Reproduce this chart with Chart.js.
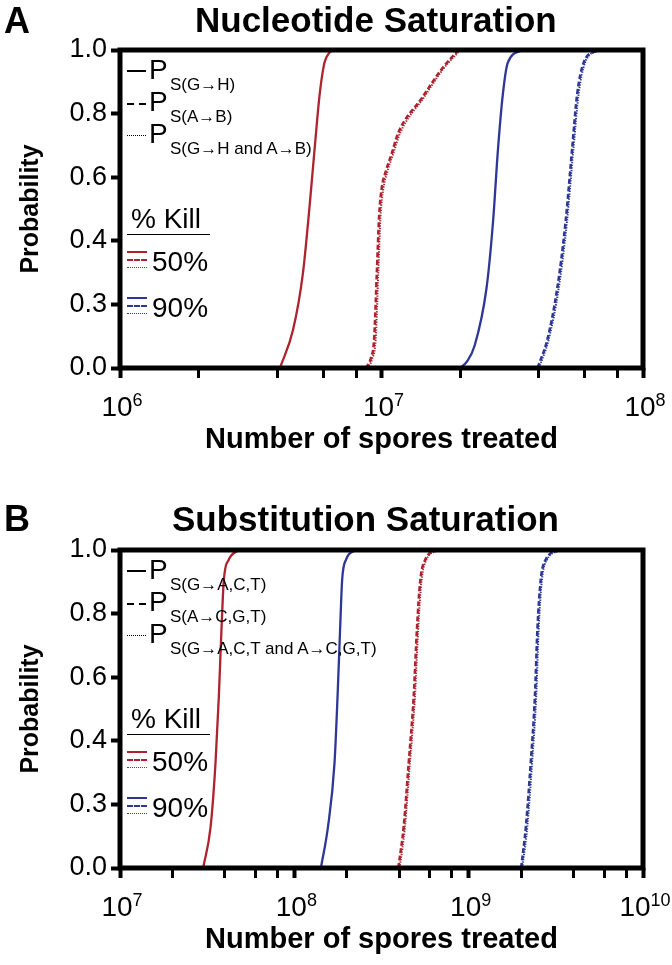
<!DOCTYPE html>
<html>
<head>
<meta charset="utf-8">
<script src="https://cdn.jsdelivr.net/npm/chart.js@4"></script>
<style>
  body { margin: 0; background: #fff; font-family: "Liberation Sans", Arial, sans-serif; }
  .panel { position: absolute; left: 0; width: 672px; height: 465px; }
  .panel canvas { position: absolute; left: 0; top: 0; }
  .txt { position: absolute; white-space: nowrap; line-height: 1; color: #000; }
  .ln { position: absolute; height: 0; }
</style>
</head>
<body>
<div class="panel" id="panelA" style="top:0"><canvas id="chartA" width="672" height="465"></canvas></div>
<div class="panel" id="panelB" style="top:500px"><canvas id="chartB" width="672" height="465"></canvas></div>

<script>
const RED = '#ad2330';
const BLUE = '#2e3795';
const FONT = '"Liberation Sans", Arial, sans-serif';

// y axis (the original figure labels the 0.2 tick as "0.3")
const yTicks = [0, 0.2, 0.4, 0.6, 0.8, 1.0];
const yTickLabels = ['0.0', '0.3', '0.4', '0.6', '0.8', '1.0'];

// Panel A - Nucleotide Saturation
const nucXTicks = [1e6, 2e6, 4e6, 6e6, 8e6, 1e7, 2e7, 4e7, 6e7, 8e7, 1e8];
const nucDecades = [1e6, 1e7, 1e8];
const nucDecadeExps = ['6', '7', '8'];

const nucGH50_p = [0, 0.12, 0.30, 0.51, 0.69, 0.86, 0.96, 0.99, 1.0];
const nucGH50_x = [4.09e6, 4.59e6, 5.01e6, 5.31e6, 5.55e6, 5.80e6, 6.05e6, 6.3e6, 6.61e6];
const nucAB50_p = [0, 0.03, 0.09, 0.30, 0.48, 0.56, 0.62, 0.67, 0.74, 0.85, 0.94, 1.0];
const nucAB50_x = [8.7e6, 9.1e6, 9.37e6, 9.6e6, 9.8e6, 1.0e7, 1.04e7, 1.09e7, 1.16e7, 1.43e7, 1.70e7, 1.97e7];
const nucBoth50_x = [8.85e6, 9.22e6, 9.5e6, 9.72e6, 9.92e6, 1.015e7, 1.055e7, 1.105e7, 1.18e7, 1.45e7, 1.72e7, 2.0e7];
const nucGH90_p = [0, 0.02, 0.07, 0.25, 0.46, 0.69, 0.86, 0.96, 1.0];
const nucGH90_x = [2.0e7, 2.12e7, 2.27e7, 2.52e7, 2.67e7, 2.79e7, 2.91e7, 3.04e7, 3.47e7];
const nucAB90_p = [0, 0.09, 0.25, 0.46, 0.69, 0.86, 0.96, 1.0];
const nucAB90_x = [3.95e7, 4.31e7, 4.70e7, 5.06e7, 5.36e7, 5.60e7, 5.93e7, 6.67e7];
const nucBoth90_x = [4.0e7, 4.36e7, 4.76e7, 5.12e7, 5.42e7, 5.67e7, 6.0e7, 6.75e7];

// Panel B - Substitution Saturation
const subXTicks = [1e7, 2e7, 4e7, 6e7, 8e7, 1e8, 2e8, 4e8, 6e8, 8e8, 1e9, 2e9, 4e9, 6e9, 8e9, 1e10];
const subDecades = [1e7, 1e8, 1e9, 1e10];
const subDecadeExps = ['7', '8', '9', '10'];

const subProb = [0, 0.13, 0.33, 0.54, 0.75, 0.905, 0.97, 1.0];
const subG50_x = [3.0e7, 3.31e7, 3.53e7, 3.69e7, 3.82e7, 3.94e7, 4.21e7, 4.8e7];
const subA50_x = [3.95e8, 4.24e8, 4.53e8, 4.84e8, 5.05e8, 5.28e8, 5.64e8, 6.56e8];
const subBoth50_x = [4.02e8, 4.31e8, 4.6e8, 4.92e8, 5.13e8, 5.37e8, 5.73e8, 6.67e8];
const subG90_x = [1.42e8, 1.56e8, 1.70e8, 1.77e8, 1.83e8, 1.88e8, 1.98e8, 2.25e8];
const subA90_x = [2.0e9, 2.13e9, 2.27e9, 2.40e9, 2.48e9, 2.59e9, 2.77e9, 3.30e9];
const subBoth90_x = [2.03e9, 2.17e9, 2.31e9, 2.44e9, 2.52e9, 2.63e9, 2.82e9, 3.36e9];

function curve(xs, ps, color, style) {
  const ds = {
    data: xs.map((x, i) => ({ x: x, y: ps[i] })),
    borderColor: color,
    borderWidth: 2.3,
    pointRadius: 0,
    fill: false,
    cubicInterpolationMode: 'monotone'
  };
  if (style === 'dash') { ds.borderDash = [5, 2.5]; ds.borderWidth = 2.6; }
  if (style === 'dot') { ds.borderDash = [1.3, 1.3]; ds.borderWidth = 2; }
  return ds;
}

const framePlugin = {
  id: 'frame',
  afterDatasetsDraw(chart) {
    const { ctx, chartArea: a } = chart;
    ctx.save();
    ctx.lineWidth = 5;
    ctx.strokeStyle = '#000';
    ctx.strokeRect(a.left, a.top, a.right - a.left, a.bottom - a.top);
    ctx.restore();
  }
};

// decade labels as 10 with a raised exponent
const expLabelPlugin = {
  id: 'expLabels',
  afterDraw(chart, args, opts) {
    const { ctx, chartArea } = chart;
    const x = chart.scales.x;
    const base = chartArea.bottom + 48;
    ctx.save();
    ctx.fillStyle = '#000';
    ctx.textBaseline = 'alphabetic';
    opts.decades.forEach((v, i) => {
      ctx.font = '28px ' + FONT;
      const w1 = ctx.measureText('10').width;
      ctx.font = '18px ' + FONT;
      const w2 = ctx.measureText(opts.exps[i]).width;
      const left = x.getPixelForValue(v) - (w1 + w2) / 2 + 2;
      ctx.font = '28px ' + FONT;
      ctx.fillText('10', left, base);
      ctx.font = '18px ' + FONT;
      ctx.fillText(opts.exps[i], left + w1, base - 10);
    });
    ctx.restore();
  }
};

function makeChart(id, xTicks, decades, exps, datasets) {
  return new Chart(document.getElementById(id), {
    type: 'line',
    data: { datasets: datasets },
    plugins: [framePlugin, expLabelPlugin],
    options: {
      responsive: false,
      animation: false,
      layout: { padding: { top: 50, right: 29, left: 0, bottom: 0 } },
      plugins: {
        legend: { display: false },
        tooltip: { enabled: false },
        expLabels: { decades: decades, exps: exps }
      },
      scales: {
        x: {
          type: 'logarithmic',
          min: xTicks[0],
          max: xTicks[xTicks.length - 1],
          afterBuildTicks: axis => { axis.ticks = xTicks.map(v => ({ value: v })); },
          afterFit: axis => { axis.height = 97; },
          border: { display: false },
          grid: {
            drawOnChartArea: false,
            tickLength: 10,
            tickColor: '#000',
            tickWidth: c => decades.includes(c.tick.value) ? 4 : 3
          },
          ticks: { autoSkip: false, maxRotation: 0, callback: () => '' },
          title: {
            display: true,
            text: 'Number of spores treated',
            color: '#000',
            font: { family: FONT, size: 29, weight: 'bold' },
            padding: { top: 0, bottom: 8 }
          }
        },
        y: {
          min: 0,
          max: 1,
          afterBuildTicks: axis => { axis.ticks = yTicks.map(v => ({ value: v })); },
          afterFit: axis => { axis.width = 120; },
          border: { display: false },
          grid: { drawOnChartArea: false, tickLength: 9, tickWidth: 4, tickColor: '#000' },
          ticks: {
            padding: 4,
            color: '#000',
            font: { family: FONT, size: 27 },
            callback: (v, i) => yTickLabels[i]
          },
          title: {
            display: true,
            text: 'Probability',
            color: '#000',
            font: { family: FONT, size: 25, weight: 'bold' },
            padding: { top: 16, bottom: 0 }
          }
        }
      }
    }
  });
}

makeChart('chartA', nucXTicks, nucDecades, nucDecadeExps, [
  curve(nucGH50_x, nucGH50_p, RED, 'solid'),
  curve(nucAB50_x, nucAB50_p, RED, 'dash'),
  curve(nucBoth50_x, nucAB50_p, RED, 'dot'),
  curve(nucGH90_x, nucGH90_p, BLUE, 'solid'),
  curve(nucAB90_x, nucAB90_p, BLUE, 'dash'),
  curve(nucBoth90_x, nucAB90_p, BLUE, 'dot')
]);

makeChart('chartB', subXTicks, subDecades, subDecadeExps, [
  curve(subG50_x, subProb, RED, 'solid'),
  curve(subA50_x, subProb, RED, 'dash'),
  curve(subBoth50_x, subProb, RED, 'dot'),
  curve(subG90_x, subProb, BLUE, 'solid'),
  curve(subA90_x, subProb, BLUE, 'dash'),
  curve(subBoth90_x, subProb, BLUE, 'dot')
]);

// ---- text overlays: panel letter, title, legend ----
function addText(panel, text, left, baseline, size, bold) {
  const el = document.createElement('div');
  el.className = 'txt';
  el.textContent = text;
  el.style.left = left + 'px';
  el.style.top = (baseline - 0.8465 * size) + 'px';
  el.style.fontSize = size + 'px';
  if (bold) el.style.fontWeight = 'bold';
  document.getElementById(panel).appendChild(el);
}

function addLine(panel, x1, x2, y, w, style, color) {
  const el = document.createElement('div');
  el.className = 'ln';
  el.style.left = x1 + 'px';
  el.style.width = (x2 - x1) + 'px';
  el.style.top = (y - w / 2) + 'px';
  el.style.borderTop = w + 'px ' + style + ' ' + color;
  document.getElementById(panel).appendChild(el);
}

function legend(panel, subs) {
  // probability keys
  addLine(panel, 127, 146, 71, 2, 'solid', '#000');
  addLine(panel, 127, 134, 104, 2, 'solid', '#000');
  addLine(panel, 139, 146, 104, 2, 'solid', '#000');
  addLine(panel, 127, 146, 136, 1.5, 'dotted', '#000');
  [80, 112, 144].forEach((b, i) => {
    addText(panel, 'P', 149, b, 28, false);
    addText(panel, subs[i], 170, b + 10, 17, false);
  });
  // % kill keys
  addText(panel, '% Kill', 131, 229, 28, false);
  addLine(panel, 127, 210, 235, 1.5, 'solid', '#000');
  addText(panel, '50%', 152, 272, 28, false);
  addLine(panel, 127, 147, 252, 2, 'solid', RED);
  addLine(panel, 127, 147, 260, 2, 'dashed', RED);
  addLine(panel, 127, 147, 268, 1.5, 'dotted', RED);
  addText(panel, '90%', 152, 318, 28, false);
  addLine(panel, 127, 147, 298, 2, 'solid', BLUE);
  addLine(panel, 127, 147, 306, 2, 'dashed', BLUE);
  addLine(panel, 127, 147, 314, 1.5, 'dotted', BLUE);
}

addText('panelA', 'A', 4, 33, 36, true);
addText('panelA', 'Nucleotide Saturation', 195, 32, 35, true);
legend('panelA', ['S(G→H)', 'S(A→B)', 'S(G→H and A→B)']);

addText('panelB', 'B', 4, 31, 36, true);
addText('panelB', 'Substitution Saturation', 172, 31, 35, true);
legend('panelB', ['S(G→A,C,T)', 'S(A→C,G,T)', 'S(G→A,C,T and A→C,G,T)']);
</script>
</body>
</html>
